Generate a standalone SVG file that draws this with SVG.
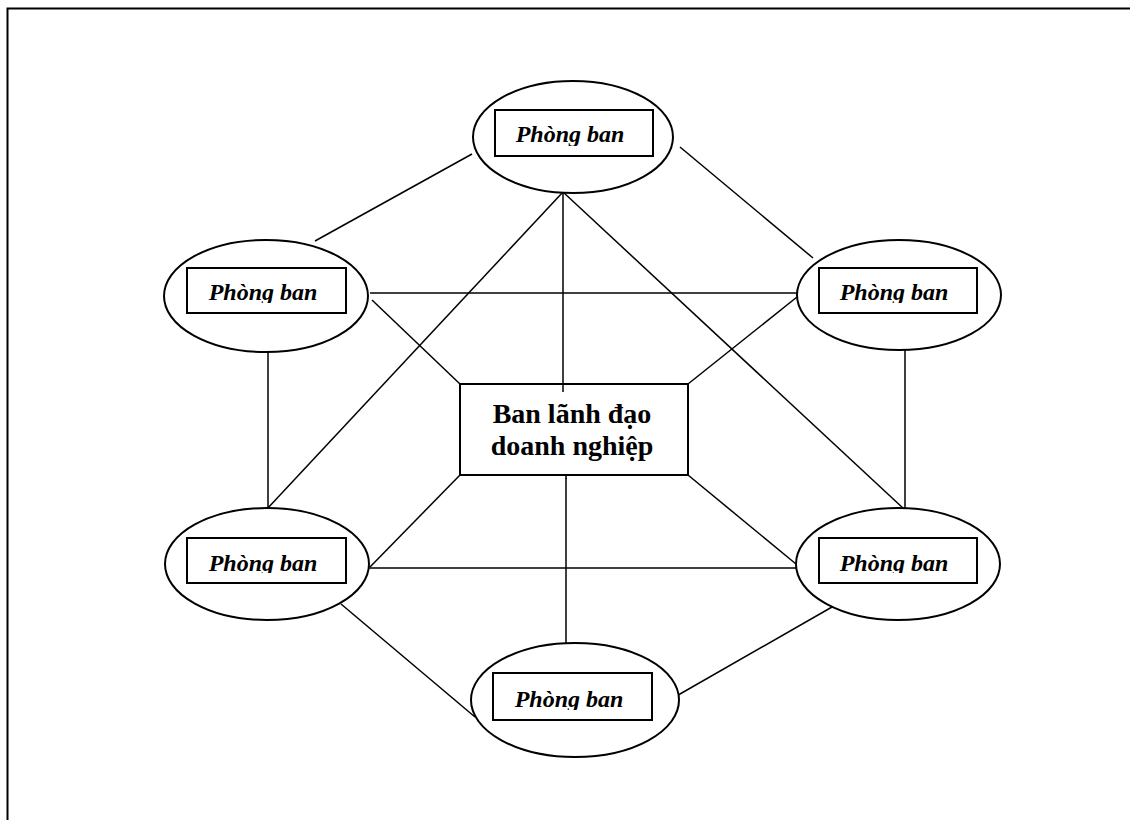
<svg xmlns="http://www.w3.org/2000/svg" width="1130" height="820" viewBox="0 0 1130 820">
  <style>
    .frame { stroke: #000; stroke-width: 2; fill: none; }
    .link { stroke: #000; stroke-width: 1.5; fill: none; }
    .oval { stroke: #000; stroke-width: 2; fill: #fff; }
    .box { stroke: #000; stroke-width: 2; fill: #fff; }
    .dept { font-family: "Liberation Serif", "Times New Roman", serif; font-size: 24px; font-weight: bold; font-style: italic; text-anchor: middle; fill: #000; }
    .lead { font-family: "Liberation Serif", "Times New Roman", serif; font-size: 28px; font-weight: bold; text-anchor: middle; fill: #000; }
  </style>
  <defs>
    <!-- text areas of the inner boxes: descenders below these lines are hidden -->
    <clipPath id="clip-top"><rect x="496" y="111" width="156" height="35"/></clipPath>
    <clipPath id="clip-ul"><rect x="188" y="269" width="157" height="34"/></clipPath>
    <clipPath id="clip-ur"><rect x="820" y="269" width="156" height="34"/></clipPath>
    <clipPath id="clip-ll"><rect x="188" y="539" width="157" height="34"/></clipPath>
    <clipPath id="clip-lr"><rect x="820" y="539" width="156" height="34"/></clipPath>
    <clipPath id="clip-bot"><rect x="494" y="674" width="157" height="36"/></clipPath>
  </defs>

  <rect width="1130" height="820" fill="#fff"/>
  <!-- page frame (top and left edges) -->
  <path class="frame" d="M7.5,820 V8.5 H1130"/>

  <g id="connectors">
    <line class="link" x1="472" y1="154" x2="315" y2="241"/>
    <line class="link" x1="680" y1="147" x2="813" y2="258"/>
    <line class="link" x1="370" y1="293" x2="797" y2="293"/>
    <line class="link" x1="372" y1="300" x2="460" y2="384"/>
    <line class="link" x1="797" y1="297" x2="688" y2="384"/>
    <line class="link" x1="268" y1="351" x2="268" y2="509"/>
    <line class="link" x1="905" y1="350" x2="905" y2="509"/>
    <line class="link" x1="563" y1="192" x2="563" y2="392"/>
    <line class="link" x1="563" y1="192" x2="267" y2="509"/>
    <line class="link" x1="563" y1="192" x2="904" y2="509"/>
    <line class="link" x1="460" y1="475" x2="370" y2="567"/>
    <line class="link" x1="688" y1="475" x2="796" y2="564"/>
    <line class="link" x1="369" y1="568" x2="797" y2="568"/>
    <line class="link" x1="566" y1="478" x2="566" y2="665"/>
    <line class="link" x1="341" y1="604" x2="475" y2="717"/>
    <line class="link" x1="832" y1="607" x2="673" y2="698"/>
  </g>

  <g id="dept-top">
    <ellipse class="oval" cx="573" cy="137" rx="100" ry="56"/>
    <rect class="box" x="495" y="110" width="158" height="46"/>
    <text class="dept" x="570" y="142" clip-path="url(#clip-top)">Phòng ban</text>
  </g>

  <g id="dept-upper-left">
    <ellipse class="oval" cx="266" cy="296" rx="102" ry="56"/>
    <rect class="box" x="187" y="268" width="159" height="45"/>
    <text class="dept" x="263" y="300" clip-path="url(#clip-ul)">Phòng ban</text>
  </g>

  <g id="dept-upper-right">
    <ellipse class="oval" cx="899" cy="295" rx="102" ry="55"/>
    <rect class="box" x="819" y="268" width="158" height="45"/>
    <text class="dept" x="894" y="300" clip-path="url(#clip-ur)">Phòng ban</text>
  </g>

  <g id="dept-lower-left">
    <ellipse class="oval" cx="267" cy="564" rx="102" ry="56"/>
    <rect class="box" x="187" y="538" width="159" height="45"/>
    <text class="dept" x="263" y="571" clip-path="url(#clip-ll)">Phòng ban</text>
  </g>

  <g id="dept-lower-right">
    <ellipse class="oval" cx="898" cy="564" rx="102" ry="56"/>
    <rect class="box" x="819" y="538" width="158" height="45"/>
    <text class="dept" x="894" y="571" clip-path="url(#clip-lr)">Phòng ban</text>
  </g>

  <g id="dept-bottom">
    <ellipse class="oval" cx="575" cy="700" rx="104" ry="57"/>
    <rect class="box" x="493" y="673" width="159" height="47"/>
    <text class="dept" x="569" y="707" clip-path="url(#clip-bot)">Phòng ban</text>
  </g>

  <g id="leadership">
    <rect class="box" x="460" y="384" width="228" height="91"/>
    <line class="link" x1="563" y1="384" x2="563" y2="392"/>
    <line class="link" x1="566" y1="475" x2="566" y2="479"/>
    <text class="lead" x="572" y="423">Ban lãnh đạo</text>
    <text class="lead" x="572" y="455">doanh nghiệp</text>
  </g>
</svg>
